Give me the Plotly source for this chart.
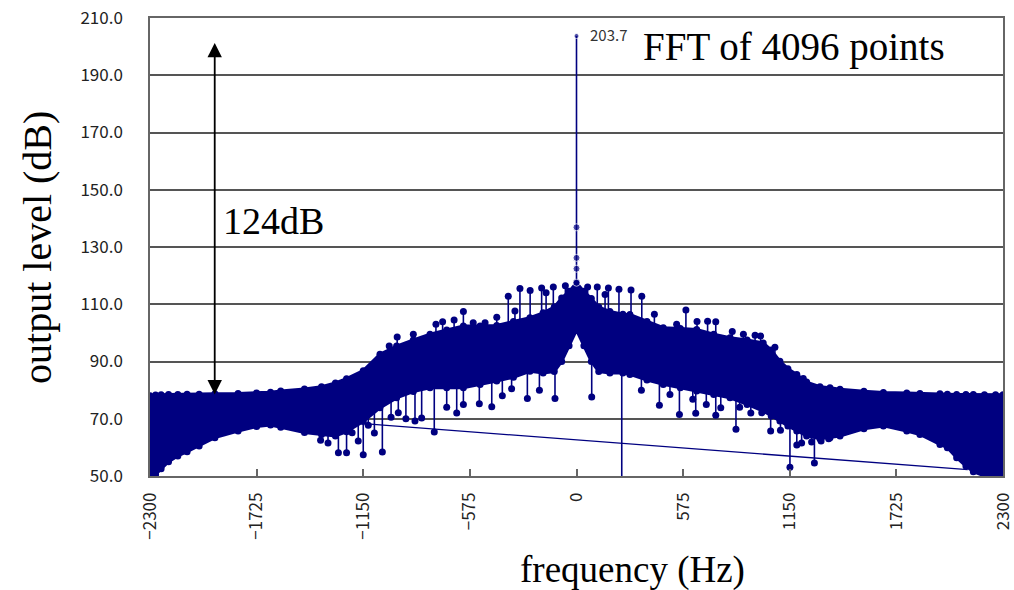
import plotly.graph_objects as go

# ---------------- data ----------------
# envelope of the dense FFT band (frequency in Hz, level in dB)
env_freq = [-2300, -2270, -2240, -2200, -2150, -2100, -2035, -1950, -1825, -1725,
            -1650, -1595, -1467, -1375, -1300, -1240, -1150, -1060, -970, -880,
            -790, -700, -610, -520, -430, -340, -251, -180, -120, -80,
            -40, 0, 40, 80, 120, 180, 250, 288, 380, 468,
            560, 648, 740, 828, 920, 1007, 1050, 1097, 1140, 1188,
            1241, 1313, 1367, 1421, 1550, 1655, 1781, 1852, 1960, 2000,
            2050, 2100, 2140, 2200, 2260, 2300]
env_upper = [78.0, 78.3, 78.4, 78.5, 78.5, 78.6, 78.6, 78.7, 78.8, 79.0,
             79.3, 79.7, 80.4, 81.2, 82.5, 84.0, 86.8, 92.5, 95.4, 97.5,
             99.5, 101.0, 102.4, 102.4, 102.6, 104.0, 105.3, 107.0, 109.0, 112.2,
             114.5, 117.5, 114.5, 112.0, 109.0, 107.5, 106.5, 106.4, 104.0, 101.8,
             101.5, 101.2, 99.5, 98.3, 97.5, 96.5, 94.0, 90.1, 87.5, 85.5,
             82.8, 81.2, 80.8, 80.3, 79.6, 79.2, 79.0, 78.8, 78.7, 78.6,
             78.5, 78.5, 78.5, 78.4, 78.4, 78.4]
env_lower = [49.5, 50.5, 52.5, 55.0, 57.0, 58.5, 60.5, 63.4, 65.7, 67.3,
             67.8, 67.0, 65.2, 64.5, 64.0, 65.5, 69.0, 73.8, 77.3, 79.5,
             80.8, 80.8, 80.8, 82.0, 83.2, 84.5, 86.6, 86.0, 86.5, 90.0,
             95.5, 101.0, 95.5, 90.0, 86.5, 86.0, 86.0, 85.5, 83.5, 82.0,
             80.8, 79.7, 78.5, 77.3, 75.0, 72.7, 71.0, 69.2, 67.5, 65.7,
             64.0, 63.0, 63.4, 64.0, 66.5, 67.5, 65.7, 64.5, 61.0, 59.9,
             56.4, 53.5, 51.5, 50.0, 49.5, 49.5]

# isolated upward spikes
up_freq = [-1010, -967, -880, -758, -722, -660, -610, -557, -493, -430,
           -368, -332, -305, -250, -188, -164, -125, -60, 60, 112,
           154, 172, 229, 294, 352, 420, 540, 590, 650, 707,
           751, 840, 900, 963, 993, 1070, 1223]
up_tip = [95.4, 98.6, 99.5, 103.0, 103.9, 104.5, 107.5, 103.5, 103.5, 105.5,
          112.8, 107.6, 115.5, 114.8, 115.7, 114.0, 116.0, 116.5, 116.0, 116.0,
          113.4, 115.7, 115.2, 115.0, 112.8, 106.5, 103.0, 108.0, 104.0, 104.1,
          103.9, 100.5, 99.5, 99.2, 98.9, 95.0, 84.1]
up_base = [88, 90, 92, 95, 95, 96, 97, 96, 96, 97,
           100, 100, 100, 100, 102, 102, 104, 108, 108, 104,
           102, 102, 100, 100, 100, 98, 96, 97, 96, 96,
           96, 93, 92, 92, 92, 88, 78]

# isolated downward spikes
down_freq = [-1380, -1340, -1284, -1240, -1210, -1177, -1150, -1123, -1090, -1047,
             -1000, -961, -920, -871, -835, -767, -700, -646, -610, -524,
             -457, -400, -350, -265, -200, -116, 82, 244, 350, 447,
             504, 555, 627, 643, 700, 751, 778, 860, 880, 940,
             999, 1047, 1100, 1151, 1188, 1214, 1268, 1283, 1319, 1360]
down_tip = [62.5, 61.5, 58.1, 58.1, 65.1, 62.2, 57.4, 67.7, 65.0, 58.4,
            70.5, 72.1, 70.0, 69.2, 70.3, 65.4, 74.0, 72.0, 75.0, 75.2,
            74.2, 78.0, 80.5, 77.1, 80.0, 77.1, 77.6, 30.0, 80.0, 74.7,
            78.5, 71.5, 76.8, 71.9, 75.0, 71.2, 73.8, 66.3, 74.0, 72.0,
            72.1, 65.7, 66.0, 53.1, 60.8, 61.5, 61.9, 54.5, 62.2, 63.0]
down_base = [70, 70, 70, 72, 72, 74, 74, 76, 78, 78,
             82, 84, 84, 85, 85, 86, 86, 86, 86, 88,
             88, 90, 90, 92, 92, 94, 94, 92, 92, 90,
             90, 88, 88, 88, 88, 86, 86, 85, 85, 84,
             82, 80, 76, 74, 72, 72, 72, 72, 70, 70]

# the carrier line at 0 Hz
peak_freq = [0, 0, 0, 0, 0]
peak_level = [117.5, 122.4, 126.2, 136.9, 203.7]

# stray straight segment drawn across the band
wrap_freq = [-1130, 2110]
wrap_level = [68.2, 52.2]

x_ticks = [-2300, -1725, -1150, -575, 0, 575, 1150, 1725, 2300]
y_ticks = [50, 70, 90, 110, 130, 150, 170, 190, 210]

# ---------------- styling ----------------
NAVY = "#000080"
SERIF = "Liberation Serif"
TICKFONT = dict(family="Noto Sans CJK JP", size=17, color="#222222")

fig = go.Figure()

# dense band
fig.add_trace(go.Scatter(
    x=env_freq + env_freq[::-1],
    y=env_upper + env_lower[::-1],
    mode="lines", fill="toself", fillcolor=NAVY,
    line=dict(color=NAVY, width=3), hoverinfo="skip"))

# dotted texture along the band edges
fig.add_trace(go.Scatter(x=env_freq, y=env_upper, mode="markers",
                         marker=dict(color=NAVY, size=7)))
fig.add_trace(go.Scatter(x=env_freq, y=env_lower, mode="markers",
                         marker=dict(color=NAVY, size=7)))

# stray segment
fig.add_trace(go.Scatter(x=wrap_freq, y=wrap_level, mode="lines",
                         line=dict(color=NAVY, width=1.3)))

# spikes (stems)
sx, sy = [], []
for f, b, t in zip(up_freq, up_base, up_tip):
    sx += [f, f, None]
    sy += [b, t, None]
for f, b, t in zip(down_freq, down_base, down_tip):
    sx += [f, f, None]
    sy += [b, t, None]
fig.add_trace(go.Scatter(x=sx, y=sy, mode="lines",
                         line=dict(color=NAVY, width=1.6)))
fig.add_trace(go.Scatter(x=up_freq + down_freq, y=up_tip + down_tip,
                         mode="markers", marker=dict(color=NAVY, size=7)))

# carrier peak
fig.add_trace(go.Scatter(x=peak_freq, y=peak_level, mode="lines+markers",
                         line=dict(color=NAVY, width=1.6),
                         marker=dict(color=NAVY, size=[7, 7, 7, 7, 5])))

fig.update_layout(
    width=1014, height=590,
    margin=dict(l=150, r=11, t=18, b=114, autoexpand=False),
    plot_bgcolor="white", paper_bgcolor="white",
    showlegend=False,
    xaxis=dict(range=[-2300, 2300], tickvals=x_ticks, tickangle=-90,
               ticks="inside", ticklen=7, tickcolor="#666666", tickwidth=1.5,
               showgrid=False, zeroline=False, automargin=False,
               showline=True, linecolor="#666666", linewidth=1.5, mirror=True,
               tickfont=TICKFONT, ticklabelstandoff=8),
    yaxis=dict(range=[50, 210], tickvals=y_ticks, tickformat=".1f",
               ticks="", showgrid=True, gridcolor="#555555", gridwidth=1.5,
               zeroline=False, automargin=False,
               showline=True, linecolor="#666666", linewidth=1.5, mirror=True,
               tickfont=TICKFONT, ticklabelstandoff=22),
    annotations=[
        dict(x=-1951, y=78.5, ax=-1951, ay=201.8, xref="x", yref="y",
             axref="x", ayref="y", text="", showarrow=True,
             arrowside="end+start", arrowhead=2, startarrowhead=2,
             arrowsize=1.6, startarrowsize=1.6, arrowwidth=1.8,
             arrowcolor="black"),
        dict(x=-1915, y=139, xref="x", yref="y", text="124dB",
             showarrow=False, xanchor="left", yanchor="middle",
             font=dict(family=SERIF, size=38, color="black")),
        dict(x=62, y=204.3, xref="x", yref="y", text="203.7",
             showarrow=False, xanchor="left", yanchor="middle",
             font=dict(family="Noto Sans CJK JP", size=15, color="#333333")),
        dict(x=348, y=200, xref="x", yref="y", text="FFT of 4096 points",
             showarrow=False, xanchor="left", yanchor="middle",
             font=dict(family=SERIF, size=39, color="black")),
        dict(x=0.566, y=-0.205, xref="paper", yref="paper",
             text="frequency (Hz)", showarrow=False,
             xanchor="center", yanchor="middle",
             font=dict(family=SERIF, size=37, color="black")),
        dict(x=-0.1313, y=0.498, xref="paper", yref="paper",
             text="output level (dB)", showarrow=False, textangle=-90,
             xanchor="center", yanchor="middle",
             font=dict(family=SERIF, size=40, color="black")),
    ],
)

fig.write_html("out.html")
